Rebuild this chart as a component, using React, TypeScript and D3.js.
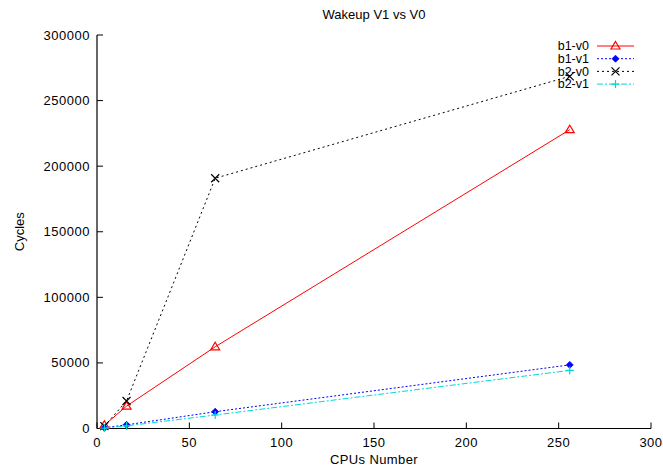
import React from "react";
import * as d3 from "d3";

const cpus = [4, 16, 64, 256];
const b1v0 = [2500, 17100, 62300, 227800];
const b1v1 = [600, 2800, 12800, 48500];
const b2v0 = [1800, 21000, 190800, 268500];
const b2v1 = [300, 2000, 10300, 44300];
const xTicks = [0, 50, 100, 150, 200, 250, 300];
const yTicks = [0, 50000, 100000, 150000, 200000, 250000, 300000];

const seriesNames = ["b1-v0", "b1-v1", "b2-v0", "b2-v1"];
const seriesData = [b1v0, b1v1, b2v0, b2v1];
const colors = ["#ff0000", "#0000ff", "#000000", "#00d8d8"];
const dashes = ["", "2,2", "2,3", "6,2,2,2"];
const markers = ["triangle", "diamond", "cross", "plus"];

const W = 663, H = 468;
const L = 97, R = 651, T = 35, B = 428.5;
const font = "'Liberation Sans', Arial, sans-serif";

function Marker({ type, x, y, color }: { type: string; x: number; y: number; color: string }) {
  if (type === "triangle") {
    return <path d={`M${x},${y - 4.5} L${x + 4.5},${y + 3} L${x - 4.5},${y + 3} Z`} fill="none" stroke={color} strokeWidth={1.2} />;
  }
  if (type === "diamond") {
    return <path d={`M${x},${y - 3.5} L${x + 3.5},${y} L${x},${y + 3.5} L${x - 3.5},${y} Z`} fill={color} stroke={color} strokeWidth={0.8} />;
  }
  if (type === "cross") {
    return <path d={`M${x - 4},${y - 4} L${x + 4},${y + 4} M${x - 4},${y + 4} L${x + 4},${y - 4}`} stroke={color} strokeWidth={1.2} />;
  }
  return <path d={`M${x - 4},${y} L${x + 4},${y} M${x},${y - 4} L${x},${y + 4}`} stroke={color} strokeWidth={1.2} />;
}

export default function App() {
  const x = d3.scaleLinear().domain([0, 300]).range([L, R]);
  const y = d3.scaleLinear().domain([0, 300000]).range([B, T]);
  const line = d3.line<[number, number]>().x(d => x(d[0])).y(d => y(d[1]));

  return (
    <svg width={W} height={H} style={{ position: "absolute", left: 0, top: 0, background: "#fff" }} fontFamily={font}>
      <rect width={W} height={H} fill="#fff" />
      <line x1={L} y1={T} x2={L} y2={B} stroke="#000" strokeWidth={1.2} />
      <line x1={L} y1={B} x2={R} y2={B} stroke="#000" strokeWidth={1.2} />
      {yTicks.map(t => (
        <g key={"y" + t}>
          <line x1={L} x2={L + 6} y1={y(t)} y2={y(t)} stroke="#000" strokeWidth={1} />
          <text x={L - 7} y={y(t)} dy="0.35em" textAnchor="end" fontSize={13} letterSpacing={0.5} fill="#000">{t}</text>
        </g>
      ))}
      {xTicks.map(t => (
        <g key={"x" + t}>
          <line x1={x(t)} x2={x(t)} y1={B} y2={B - 6} stroke="#000" strokeWidth={1} />
          <text x={x(t)} y={B + 18} textAnchor="middle" fontSize={13} letterSpacing={0.5} fill="#000">{t}</text>
        </g>
      ))}
      <text x={(L + R) / 2} y={19} textAnchor="middle" fontSize={13} fill="#000">Wakeup V1 vs V0</text>
      <text x={(L + R) / 2} y={464} textAnchor="middle" fontSize={13} letterSpacing={0.4} fill="#000">CPUs Number</text>
      <text transform={`translate(24,${(T + B) / 2}) rotate(-90)`} textAnchor="middle" fontSize={13} fill="#000">Cycles</text>

      {seriesData.map((vals, i) => {
        const pts = cpus.map((c, j) => [c, vals[j]] as [number, number]);
        return (
          <g key={seriesNames[i]}>
            <path d={line(pts) || ""} fill="none" stroke={colors[i]} strokeWidth={1} strokeDasharray={dashes[i] || undefined} />
            {pts.map((p, j) => (
              <Marker key={j} type={markers[i]} x={x(p[0])} y={y(p[1])} color={colors[i]} />
            ))}
          </g>
        );
      })}

      {seriesNames.map((n, i) => {
        const ly = 46 + i * 12.7;
        return (
          <g key={"lg" + n}>
            <text x={589} y={ly} dy="0.35em" textAnchor="end" fontSize={12.5} fill="#000">{n}</text>
            <line x1={597} x2={634} y1={ly} y2={ly} stroke={colors[i]} strokeWidth={1} strokeDasharray={dashes[i] || undefined} />
            <Marker type={markers[i]} x={615.5} y={ly} color={colors[i]} />
          </g>
        );
      })}
    </svg>
  );
}
